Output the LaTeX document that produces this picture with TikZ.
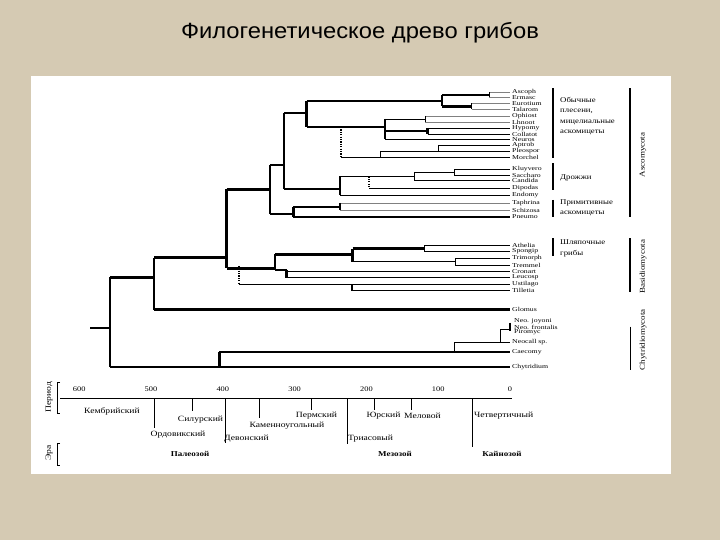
\documentclass[tikz,border=0pt]{standalone}
\usepackage{fontspec}
\setmainfont{Liberation Serif}[FakeStretch=1.2]
\newfontfamily\leaffont{Liberation Serif}[FakeStretch=1.3]
\newfontfamily\titlefont{Liberation Sans}[FakeStretch=1.08]
\definecolor{bgbeige}{HTML}{D5CAB3}
\begin{document}
\begin{tikzpicture}[x=1pt,y=-1pt,
  thk/.style={line width=2.6pt},
  thn/.style={line width=0.8pt},
  gry/.style={line width=0.8pt, black!50},
  dotv/.style={line width=2.2pt, dash pattern=on 1.2pt off 1.2pt},
  leaf/.style={anchor=west, inner sep=0pt, font=\leaffont\fontsize{6}{6}\selectfont},
  grp/.style={anchor=west, inner sep=0pt, align=left, font=\fontsize{7.3}{10.5}\selectfont},
  phy/.style={rotate=90, inner sep=0pt, font=\fontsize{7.5}{7.5}\selectfont},
  num/.style={inner sep=0pt, font=\fontsize{7}{7}\selectfont},
  per/.style={inner sep=0pt, font=\fontsize{8}{8}\selectfont},
  era/.style={inner sep=0pt, font=\fontsize{7.5}{7.5}\selectfont\bfseries},
  gbar/.style={line width=2.6pt},
  tick/.style={line width=0.8pt}]
\useasboundingbox (0,0) rectangle (720,540);
\fill[bgbeige] (0,0) rectangle (720,540);
\fill[white] (31,76) rectangle (671,474);
\node[font=\titlefont\fontsize{22}{22}\selectfont] (title) at (360,33) {Филогенетическое древо грибов};

% leaves
\foreach \n/\y/\t in {L1/92.5/Ascoph, L2/97.5/Ermasc, L3/103.5/Eurotium, L4/109/Talarom,
  L5/116/Ophiost, L6/122/Lhnoot, L7/128/Hypomy, L8/134/Collatot, L9/139.5/Neuros,
  L10/145/Aptrob, L11/151/Pleospor, L12/157.5/Morchel, L13/169.5/Kluyvero,
  L14/175/Saccharo, L15/180.5/Candida, L16/188/Dipodas, L17/195/Endomy,
  L18/203/Taphrina, L19/210/Schizosa, L20/217/Pneumo, L21/245.5/Athelia,
  L22/251/Spongip, L23/258.5/Trimorph, L24/265/Tremmel, L25/271.5/Cronart,
  L26/277.5/Leucosp, L27/284.5/Ustilago, L28/290.5/Tilletia, L29/309.5/Glomus,
  L33/342/Neocall sp., L34/352/Caecomy, L35/367/Chytridium}
  {\coordinate (\n) at (510,\y); \node[leaf] (t\n) at (512,\y) {\t};}
\foreach \n/\y/\t in {L30/321.5/Neo. joyoni, L31/327/Neo. frontalis, L32/332.5/Piromyc}
  {\coordinate (\n) at (510,\y); \node[leaf] (t\n) at (514,\y) {\t};}

% internal nodes
\coordinate (n1) at (489,95);
\coordinate (n2) at (471.7,106.5);
\coordinate (n3) at (442,101);
\coordinate (n4) at (425,119);
\coordinate (n5) at (427.7,131);
\coordinate (n6) at (385,127);
\coordinate (n7) at (306.7,113);
\coordinate (n8) at (438,151);
\coordinate (n9) at (380,157.5);
\coordinate (d1) at (341,157.5);
\coordinate (n10) at (454,172);
\coordinate (n11) at (414,176.5);
\coordinate (n12) at (340,189);
\coordinate (d2) at (369,188);
\coordinate (n13) at (284,165);
\coordinate (n14) at (340,207);
\coordinate (n15) at (293.3,214);
\coordinate (n16) at (270,189.3);
\coordinate (n17) at (226.7,257.7);
\coordinate (n18) at (424,248.5);
\coordinate (n19) at (455,261.5);
\coordinate (n20) at (352.7,254.3);
\coordinate (n21) at (286.7,270);
\coordinate (n22) at (275,268.3);
\coordinate (d3) at (239,284.5);
\coordinate (n23) at (352,290.5);
\coordinate (n24) at (154,277.3);
\coordinate (n25) at (110,328);
\coordinate (r0) at (90,328);
\coordinate (n26) at (219.3,367);
\coordinate (n27) at (454,352);
\coordinate (n28) at (500,342);
\coordinate (n29) at (510,329);

% --- Ascomycota
\draw[gry] (n1 |- L1) -- (L1); \draw[gry] (n1 |- L2) -- (L2); \draw[thn] (n1 |- L1) -- (n1 |- L2);
\draw[gry] (n2 |- L3) -- (L3); \draw[gry] (n2 |- L4) -- (L4); \draw[thn] (n2 |- L3) -- (n2 |- L4);
\draw[thk] (n3 |- n1) -- (n1); \draw[thk] (n3 |- n2) -- (n2); \draw[thk] (n3 |- n1) -- (n3 |- n2);
\draw[gry] (n4 |- L5) -- (L5); \draw[gry] (n4 |- L6) -- (L6); \draw[thn] (n4 |- L5) -- (n4 |- L6);
\draw[thn] (n5 |- L7) -- (L7); \draw[thn] (n5 |- L8) -- (L8); \draw[thk] (n5 |- L7) -- (n5 |- L8);
\draw[thn] (n6 |- n4) -- (n4); \draw[thk] (n6 |- n5) -- (n5); \draw[thn] (n6 |- L9) -- (L9);
\draw[thk] (n6 |- n4) -- (n6 |- L9);
\draw[thk] (n7 |- n3) -- (n3); \draw[thk] (n7 |- n6) -- (n6); \draw[thk] (n7 |- n3) -- (n7 |- n6);
\draw[dotv] (d1 |- n6) -- (d1);
\draw[thn] (d1) -- (L12);
\draw[thn] (n9 |- n8) -- (n9);
\draw[thn] (n9 |- n8) -- (n8);
\draw[thn] (n8 |- L10) -- (L10); \draw[thn] (n8) -- (L11); \draw[thn] (n8 |- L10) -- (n8);
\draw[thn] (n10 |- L13) -- (L13); \draw[thn] (n10 |- L14) -- (L14); \draw[thn] (n10 |- L13) -- (n10 |- L14);
\draw[thn] (n11 |- n10) -- (n10); \draw[thn] (n11 |- L15) -- (L15); \draw[thn] (n11 |- n10) -- (n11 |- L15);
\draw[thn] (n12 |- n11) -- (n11); \draw[thn] (n12 |- L17) -- (L17); \draw[thk] (n12 |- n11) -- (n12 |- L17);
\draw[dotv] (d2 |- n11) -- (d2); \draw[thn] (d2) -- (L16);
\draw[thk] (n13 |- n7) -- (n7); \draw[thk] (n13 |- n12) -- (n12); \draw[thk] (n13 |- n7) -- (n13 |- n12);
\draw[gry] (n14 |- L18) -- (L18); \draw[gry] (n14 |- L19) -- (L19); \draw[thk] (n14 |- L18) -- (n14 |- L19);
\draw[thk] (n15 |- n14) -- (n14); \draw[thk] (n15 |- L20) -- (L20); \draw[thk] (n15 |- n14) -- (n15 |- L20);
\draw[thk] (n16 |- n13) -- (n13); \draw[thk] (n16 |- n15) -- (n15); \draw[thk] (n16 |- n13) -- (n16 |- n15);
% --- Basidiomycota
\draw[thn] (n18 |- L21) -- (L21); \draw[thn] (n18 |- L22) -- (L22); \draw[thn] (n18 |- L21) -- (n18 |- L22);
\draw[thn] (n19 |- L23) -- (L23); \draw[thn] (n19 |- L24) -- (L24); \draw[thn] (n19 |- L23) -- (n19 |- L24);
\draw[thk] (n20 |- n18) -- (n18); \draw[thn] (n20 |- n19) -- (n19); \draw[thk] (n20 |- n18) -- (n20 |- n19);
\draw[thn] (n21 |- L25) -- (L25); \draw[thn] (n21 |- L26) -- (L26); \draw[thk] (n21) -- (n21 |- L26);
\draw[thk] (n22 |- n20) -- (n20); \draw[thk] (n22 |- n21) -- (n21); \draw[thk] (n22 |- n20) -- (n22 |- n21);
\draw[dotv] ([yshift=2.5pt]d3 |- n22) -- (d3); \draw[thn] (d3) -- (L27);
\draw[thk] (n23 |- L27) -- (n23); \draw[thn] (n23) -- (L28);
\draw[thk] (n17 |- n16) -- (n16); \draw[thk] (n17 |- n22) -- (n22); \draw[thk] (n17 |- n16) -- (n17 |- n22);
% --- deeper
\draw[thk] (n24 |- n17) -- (n17); \draw[thk] (n24 |- L29) -- (L29); \draw[thk] (n24 |- n17) -- (n24 |- L29);
\draw[thk] (r0) -- (n25);
\draw[thk] (n25 |- n24) -- (n24); \draw[thk] (n25 |- L35) -- (L35); \draw[thk] (n25 |- n24) -- (n25 |- L35);
% --- Chytrids
\draw[thk] (n26 |- n27) -- (n26); \draw[thk] (n26 |- n27) -- (n27);
\draw[thn] (n27 |- n28) -- (n27); \draw[thk] (n27) -- (L34); \draw[thn] (n27 |- n28) -- (n28);
\draw[thn] (n28 |- n29) -- (n28); \draw[thn] (n28) -- (L33); \draw[thn] (n28 |- n29) -- (n29);
\draw[line width=2pt] ([yshift=-1pt]L30) -- ([yshift=1.5pt]L32);

% group bars and labels
\draw[gbar] (553,88.3) -- (553,158.3);
\draw[gbar] (553,163.3) -- (553,190);
\draw[gbar] (553,200) -- (553,216.7);
\draw[gbar] (553,238.3) -- (553,256);
\node[grp] (g1) at (560,116) {Обычные\\плесени,\\мицелиальные\\аскомицеты};
\node[grp] (g2) at (560,178) {Дрожжи};
\node[grp] (g3) at (560,208) {Примитивные\\аскомицеты};
\node[grp] (g4) at (560,248.5) {Шляпочные\\грибы};
\draw[gbar] (630,88.3) -- (630,216.7);
\draw[gbar] (630,238.3) -- (630,291.7);
\draw[thn] (630,326.7) -- (630,370);
\node[phy] (p1) at (643,155) {Ascomycota};
\node[phy] (p2) at (643,266.7) {Basidiomycota};
\node[phy] (p3) at (643,340) {Chytridiomycota};

% time axis
\draw[tick] (60,398.5) -- (512,398.5);
\foreach \v/\x in {600/79.2, 500/151, 400/222.8, 300/294.6, 200/366.4, 100/438.2, 0/510}
  \node[num] (a\v) at (\x,389.5) {\v};
\draw[thn] (60,382) -- (57,382) -- (57,413) -- (60,413);
\draw[thn] (60,443) -- (57,443) -- (57,465) -- (60,465);
\node[per, rotate=90] (lp) at (49,397) {Период};
\node[per, rotate=90] (le) at (49,453) {Эра};
\node[per] (kem) at (112,411) {Кембрийский};
\draw[tick] (154,398.5) -- (154,428); \node[per] (ord) at (178,434.5) {Ордовикский};
\draw[tick] (192,398.5) -- (192,411); \node[per] (sil) at (200.5,419.5) {Силурский};
\draw[tick] (225,398.5) -- (225,443); \node[per, anchor=west] (dev) at (224,439) {Девонский};
\draw[tick] (259,398.5) -- (259,418); \node[per] (kam) at (287,425.5) {Каменноугольный};
\draw[tick] (311,398.5) -- (311,410); \node[per] (per) at (316.5,415.5) {Пермский};
\draw[tick] (347,398.5) -- (347,444); \node[per, anchor=west] (tri) at (348,438.5) {Триасовый};
\draw[tick] (374,398.5) -- (374,410); \node[per] (yur) at (383.5,415.5) {Юрский};
\draw[tick] (411,398.5) -- (411,410); \node[per] (mel) at (422.5,415.5) {Меловой};
\draw[tick] (472,398.5) -- (472,447); \node[per, anchor=west] (chet) at (474,415.5) {Четвертичный};
\node[era] (pal) at (190,453.5) {Палеозой};
\node[era] (mez) at (395,453.5) {Мезозой};
\node[era] (kai) at (502,453.5) {Кайнозой};
\end{tikzpicture}
\end{document}
